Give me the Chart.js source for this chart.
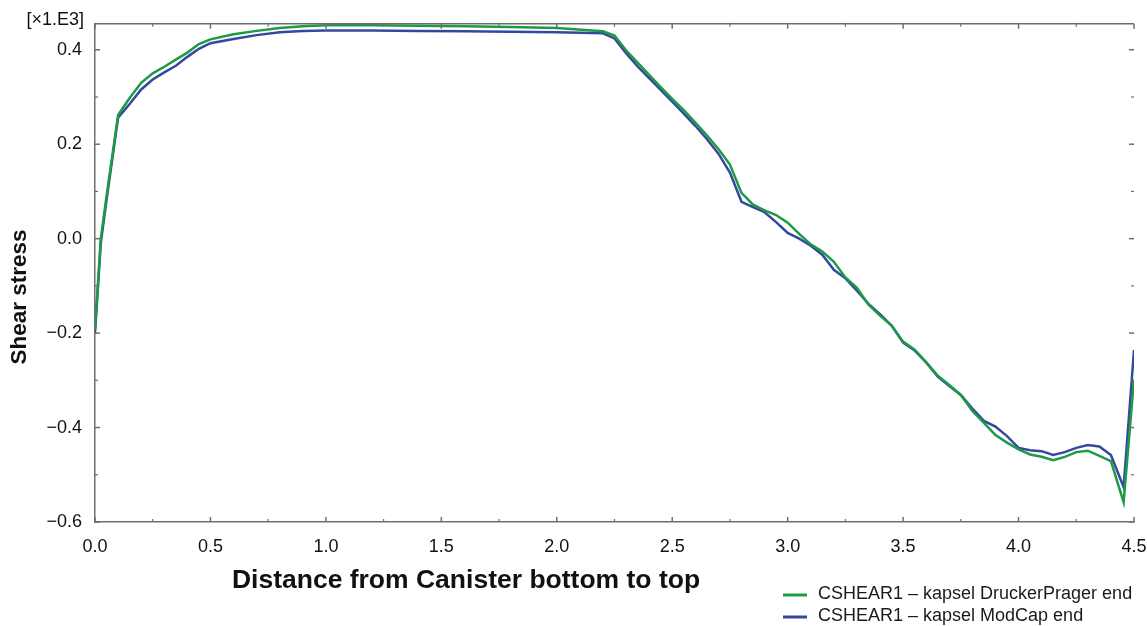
<!DOCTYPE html>
<html>
<head>
<meta charset="utf-8">
<script src="https://cdn.jsdelivr.net/npm/chart.js@4/dist/chart.umd.min.js"></script>
<style>
  html, body { margin: 0; padding: 0; background: #ffffff; }
  #wrap { width: 1147px; height: 626px; position: relative; }
</style>
</head>
<body>
<div id="wrap"><canvas id="c" width="1147" height="626"></canvas></div>
<script>
// Position along the canister (bottom to top)
const distance = [
  0, 0.025, 0.05, 0.1, 0.15, 0.2, 0.25, 0.3, 0.35, 0.4, 0.45, 0.5, 0.6, 0.7, 0.8, 0.9,
  1.0, 1.2, 1.4, 1.6, 1.8, 2.0, 2.2, 2.25, 2.3, 2.35, 2.4, 2.45, 2.5, 2.55, 2.6, 2.65,
  2.7, 2.75, 2.8, 2.85, 2.9, 2.95, 3.0, 3.05, 3.1, 3.15, 3.2, 3.25, 3.3, 3.35, 3.4, 3.45,
  3.5, 3.55, 3.6, 3.65, 3.7, 3.75, 3.8, 3.85, 3.9, 3.95, 4.0, 4.05, 4.1, 4.15, 4.2, 4.25,
  4.3, 4.35, 4.4, 4.455, 4.5
];

// Shear stress [x1.E3], DruckerPrager material model
const druckerPrager = [
  -0.192, 0.0, 0.09, 0.262, 0.298, 0.330, 0.350, 0.364, 0.379, 0.394, 0.412, 0.422, 0.433, 0.440, 0.446, 0.450,
  0.452, 0.452, 0.451, 0.450, 0.448, 0.446, 0.439, 0.430, 0.399, 0.373, 0.347, 0.321, 0.296, 0.272, 0.246, 0.219,
  0.190, 0.157, 0.097, 0.072, 0.060, 0.050, 0.034, 0.010, -0.012, -0.027, -0.049, -0.082, -0.104, -0.140, -0.163, -0.184,
  -0.218, -0.235, -0.262, -0.290, -0.310, -0.331, -0.365, -0.390, -0.416, -0.432, -0.446, -0.457, -0.462, -0.469, -0.462, -0.452,
  -0.449, -0.460, -0.471, -0.558, -0.298
];

// Shear stress [x1.E3], ModCap material model
const modCap = [
  -0.200, -0.010, 0.082, 0.256, 0.285, 0.316, 0.337, 0.352, 0.366, 0.385, 0.402, 0.414, 0.423, 0.431, 0.437, 0.440,
  0.441, 0.441, 0.440, 0.439, 0.438, 0.437, 0.435, 0.424, 0.393, 0.365, 0.340, 0.315, 0.290, 0.265, 0.239, 0.211,
  0.180, 0.140, 0.078, 0.067, 0.056, 0.035, 0.012, 0.000, -0.015, -0.034, -0.066, -0.084, -0.110, -0.138, -0.160, -0.184,
  -0.220, -0.237, -0.262, -0.292, -0.312, -0.331, -0.360, -0.386, -0.398, -0.418, -0.443, -0.448, -0.450, -0.458, -0.452, -0.443,
  -0.437, -0.440, -0.458, -0.526, -0.236
];

const xTicks = [0, 0.5, 1.0, 1.5, 2.0, 2.5, 3.0, 3.5, 4.0, 4.5];
const yTicks = [-0.6, -0.4, -0.2, 0.0, 0.2, 0.4];

const seriesLabels = ['CSHEAR1 – kapsel DruckerPrager end', 'CSHEAR1 – kapsel ModCap end'];
const seriesColors = ['#1c9a45', '#34499e'];

const xTitle = 'Distance from Canister bottom to top';
const yTitle = 'Shear stress';
const yUnit = '[×1.E3]';

const FONT = '"Liberation Sans", Arial, Helvetica, sans-serif';
const AXIS_COLOR = '#6e6e6e';

function toPoints(ys) {
  return distance.map((d, i) => ({ x: d, y: ys[i] }));
}

function fmt(v) {
  return (Math.abs(v) < 1e-9 ? 0 : v).toFixed(1).replace('-', '\u2212');
}

// Frame, inward ticks, titles and the legend block
const decorations = {
  id: 'decorations',
  afterDraw(chart) {
    const { ctx, chartArea, scales } = chart;
    const { left, right, top, bottom } = chartArea;
    const xs = scales.x, ys = scales.y;
    ctx.save();
    ctx.strokeStyle = AXIS_COLOR;
    ctx.lineWidth = 1.5;
    const line = (x1, y1, x2, y2) => {
      ctx.beginPath(); ctx.moveTo(x1, y1); ctx.lineTo(x2, y2); ctx.stroke();
    };
    // top frame line
    line(left, top, right, top);

    // x ticks (bottom pointing up, top pointing down)
    xTicks.forEach((v, i) => {
      const px = xs.getPixelForValue(v);
      line(px, bottom, px, bottom - 5);
      line(px, top, px, top + 5);
      if (i < xTicks.length - 1) {
        const pm = xs.getPixelForValue((v + xTicks[i + 1]) / 2);
        ctx.lineWidth = 1.2;
        line(pm, bottom, pm, bottom - 3);
        line(pm, top, pm, top + 3);
        ctx.lineWidth = 1.5;
      }
    });
    // y ticks (left pointing right, right pointing left)
    yTicks.forEach((v, i) => {
      const py = ys.getPixelForValue(v);
      line(left, py, left + 5, py);
      line(right, py, right - 5, py);
      if (i < yTicks.length - 1) {
        const pm = ys.getPixelForValue((v + yTicks[i + 1]) / 2);
        ctx.lineWidth = 1.2;
        line(left, pm, left + 3, pm);
        line(right, pm, right - 3, pm);
        ctx.lineWidth = 1.5;
      }
    });

    ctx.fillStyle = '#111111';
    // unit label above the y axis
    ctx.font = '18px ' + FONT;
    ctx.textAlign = 'right';
    ctx.textBaseline = 'middle';
    ctx.fillText(yUnit, 84, 20);

    // x axis title
    ctx.font = 'bold 26.5px ' + FONT;
    ctx.textAlign = 'center';
    ctx.textBaseline = 'middle';
    ctx.fillText(xTitle, 466, 581);

    // y axis title
    ctx.save();
    ctx.translate(20, 297);
    ctx.rotate(-Math.PI / 2);
    ctx.font = 'bold 22.5px ' + FONT;
    ctx.fillText(yTitle, 0, 0);
    ctx.restore();

    // legend
    ctx.font = '18px ' + FONT;
    ctx.textAlign = 'left';
    ctx.textBaseline = 'middle';
    seriesLabels.forEach((label, i) => {
      const ly = 595 + i * 22;
      ctx.strokeStyle = seriesColors[i];
      ctx.lineWidth = 3;
      line(783, ly, 807, ly);
      ctx.fillStyle = '#1a1a1a';
      ctx.fillText(label, 818, ly - 1);
    });
    ctx.restore();
  }
};

new Chart(document.getElementById('c'), {
  type: 'line',
  data: {
    datasets: [
      { label: seriesLabels[0], data: toPoints(druckerPrager), borderColor: seriesColors[0], borderWidth: 2.5 },
      { label: seriesLabels[1], data: toPoints(modCap), borderColor: seriesColors[1], borderWidth: 2.5 }
    ]
  },
  options: {
    responsive: false,
    animation: false,
    devicePixelRatio: 1,
    parsing: false,
    elements: { point: { radius: 0 }, line: { tension: 0, fill: false } },
    layout: { padding: { top: 23, right: 0, left: 0, bottom: 0 } },
    plugins: { legend: { display: false }, tooltip: { enabled: false } },
    scales: {
      x: {
        type: 'linear',
        min: 0, max: 4.5,
        afterBuildTicks: (s) => { s.ticks = xTicks.map(v => ({ value: v })); },
        afterFit: (s) => { s.height = 104; s.paddingLeft = 0; s.paddingRight = 13; },
        grid: { display: false, drawTicks: false },
        border: { display: true, color: AXIS_COLOR, width: 1.5 },
        ticks: {
          autoSkip: false, maxRotation: 0, padding: 14,
          color: '#111111', font: { family: FONT, size: 18 },
          callback: (v) => fmt(v)
        }
      },
      y: {
        type: 'linear',
        min: -0.6, max: 0.455,
        afterBuildTicks: (s) => { s.ticks = yTicks.map(v => ({ value: v })); },
        afterFit: (s) => { s.width = 95; },
        grid: { display: false, drawTicks: false },
        border: { display: true, color: AXIS_COLOR, width: 1.5 },
        ticks: {
          autoSkip: false, padding: 13,
          color: '#111111', font: { family: FONT, size: 18 },
          callback: (v) => fmt(v)
        }
      }
    }
  },
  plugins: [decorations]
});
</script>
</body>
</html>
